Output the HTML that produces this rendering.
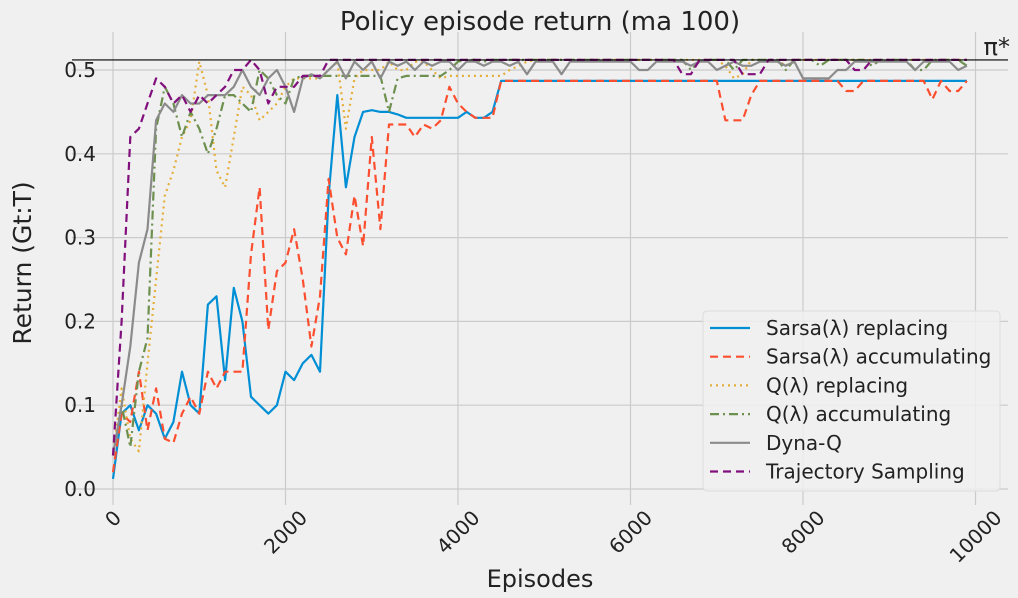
<!DOCTYPE html>
<html><head><meta charset="utf-8"><style>
body{margin:0;background:#f0f0f0;}
svg{display:block;font-family:"DejaVu Sans","Liberation Sans",sans-serif;}
</style></head><body>
<svg id="chart" width="1018" height="598" viewBox="0 0 1018 598">
<rect x="0" y="0" width="1018" height="598" fill="#f0f0f0"/>
<g id="grid"></g>
<g id="series"></g>
<g id="axes"></g>
<text x="540" y="30" font-size="26" text-anchor="middle" fill="#222">Policy episode return (ma 100)</text>
<text x="540" y="587" font-size="24" text-anchor="middle" fill="#222">Episodes</text>
<text transform="translate(31,263) rotate(-90)" font-size="25" text-anchor="middle" fill="#222">Return (Gt:T)</text>
<g id="legend"></g>
</svg>
<script>
const episodes=[];for(let i=0;i<100;i++)episodes.push(i*100);
const xTicks=[0,2000,4000,6000,8000,10000];
const yTicks=[0.0,0.1,0.2,0.3,0.4,0.5];
const yTickLabels=["0.0","0.1","0.2","0.3","0.4","0.5"];
const optimalValue=0.512;
const seriesNames=["Sarsa(λ) replacing","Sarsa(λ) accumulating","Q(λ) replacing","Q(λ) accumulating","Dyna-Q","Trajectory Sampling"];
const sarsaReplacing=[.012,.09,.10,.07,.10,.09,.06,.08,.14,.10,
.09,.22,.23,.13,.24,.20,.11,.10,.09,.10,
.14,.13,.15,.16,.14,.35,.47,.36,.42,.45,
.452,.45,.45,.447,.443,.443,.443,.443,.443,.443,
.443,.45,.443,.443,.45,.487,.487,.487,.487,.487,
.487,.487,.487,.487,.487,.487,.487,.487,.487,.487,
.487,.487,.487,.487,.487,.487,.487,.487,.487,.487,
.487,.487,.487,.487,.487,.487,.487,.487,.487,.487,
.487,.487,.487,.487,.487,.487,.487,.487,.487,.487,
.487,.487,.487,.487,.487,.487,.487,.487,.487,.487];
const sarsaAccumulating=[.02,.09,.08,.14,.07,.12,.06,.055,.09,.11,
.09,.14,.12,.14,.14,.14,.28,.36,.19,.26,
.27,.31,.25,.17,.23,.37,.30,.28,.35,.29,
.42,.31,.435,.435,.435,.42,.435,.43,.44,.48,
.46,.45,.443,.443,.443,.487,.487,.487,.487,.487,
.487,.487,.487,.487,.487,.487,.487,.487,.487,.487,
.487,.487,.487,.487,.487,.487,.487,.487,.487,.487,
.487,.44,.44,.44,.47,.487,.487,.487,.487,.487,
.487,.487,.487,.487,.487,.475,.475,.487,.487,.487,
.487,.487,.487,.487,.487,.465,.487,.475,.475,.487];
const qReplacing=[.04,.12,.06,.045,.15,.25,.35,.38,.42,.44,
.51,.47,.38,.36,.42,.48,.47,.44,.45,.46,
.48,.49,.49,.49,.49,.50,.51,.43,.49,.50,
.50,.50,.51,.50,.50,.51,.51,.50,.49,.493,
.493,.493,.493,.493,.493,.493,.50,.505,.51,.512,
.512,.512,.512,.512,.512,.512,.512,.512,.512,.512,
.512,.512,.512,.512,.512,.512,.512,.512,.512,.512,
.512,.505,.49,.495,.512,.512,.512,.512,.505,.512,
.512,.512,.512,.512,.512,.512,.512,.512,.512,.512,
.512,.512,.512,.512,.512,.512,.512,.512,.512,.512];
const qAccumulating=[.04,.10,.05,.14,.18,.43,.48,.46,.42,.45,
.43,.40,.43,.47,.47,.46,.45,.50,.49,.47,
.46,.49,.493,.493,.493,.493,.493,.493,.493,.493,
.493,.493,.45,.49,.493,.493,.493,.493,.493,.50,
.51,.512,.512,.51,.512,.512,.512,.512,.512,.512,
.512,.512,.512,.512,.512,.512,.512,.512,.512,.512,
.512,.512,.512,.512,.512,.512,.512,.50,.51,.512,
.512,.512,.50,.512,.512,.512,.512,.512,.50,.512,
.512,.512,.505,.512,.512,.512,.512,.512,.505,.512,
.512,.512,.512,.50,.50,.512,.512,.512,.512,.505];
const dynaQ=[.04,.10,.17,.27,.31,.44,.46,.45,.47,.46,
.46,.47,.47,.47,.48,.50,.48,.47,.49,.50,
.48,.45,.49,.495,.49,.50,.51,.49,.51,.50,
.51,.49,.51,.505,.51,.50,.51,.505,.51,.51,
.50,.51,.51,.505,.51,.51,.505,.51,.495,.51,
.51,.51,.495,.51,.51,.51,.51,.51,.51,.51,
.51,.50,.50,.51,.51,.51,.51,.505,.51,.51,
.50,.505,.51,.505,.505,.51,.51,.51,.505,.51,
.49,.49,.49,.49,.50,.50,.51,.51,.51,.51,
.51,.51,.51,.50,.51,.51,.51,.51,.50,.505];
const trajectorySampling=[.04,.20,.42,.43,.46,.49,.48,.46,.47,.45,
.47,.46,.47,.48,.50,.50,.512,.50,.46,.48,
.48,.48,.493,.493,.493,.512,.512,.512,.512,.512,
.512,.512,.512,.512,.512,.512,.512,.512,.512,.512,
.512,.512,.512,.512,.512,.512,.512,.512,.512,.512,
.512,.512,.512,.512,.512,.512,.512,.512,.512,.512,
.512,.512,.512,.512,.512,.512,.495,.495,.512,.512,
.512,.512,.512,.495,.495,.495,.512,.512,.512,.512,
.512,.512,.512,.512,.512,.512,.50,.50,.512,.512,
.512,.512,.512,.512,.512,.512,.512,.512,.512,.512];
const allSeries=[sarsaReplacing,sarsaAccumulating,qReplacing,qAccumulating,dynaQ,trajectorySampling];
const colors=["#008fd5","#fc4f30","#e5ae38","#6d904f","#8b8b8b","#810f7c"];
const dashes=["","8,5","2,4","9,4,2,4","","8,5"];
const slugs=["sarsa-replacing","sarsa-accumulating","q-replacing","q-accumulating","dyna-q","trajectory-sampling"];
const NS="http://www.w3.org/2000/svg";
const X0=72,X1=1008,Y0=32,Y1=505;
function xs(e){return 113+e*0.08625;}
function ys(v){return 489-v*838;}
function mk(tag,attrs,parent){const el=document.createElementNS(NS,tag);for(const k in attrs)el.setAttribute(k,attrs[k]);parent.appendChild(el);return el;}
const grid=document.getElementById('grid');
xTicks.forEach(t=>{const l=mk('line',{x1:xs(t),x2:xs(t),y1:Y0,y2:Y1,stroke:'#cbcbcb','stroke-width':1.2},grid);

});
yTicks.forEach(t=>{const l=mk('line',{x1:X0,x2:X1,y1:ys(t),y2:ys(t),stroke:'#cbcbcb','stroke-width':1.2},grid);

});
const axes=document.getElementById('axes');
yTicks.forEach((t,i)=>{const tx=mk('text',{x:96,y:ys(t)+7,'font-size':20,'text-anchor':'end',fill:'#222'},axes);tx.textContent=yTickLabels[i];

});
xTicks.forEach(t=>{const s=String(t);const w=s.length*12.7;const cy=507+(w+20)*0.707/2;
const tx=mk('text',{x:0,y:7,'font-size':20,'text-anchor':'middle',fill:'#222',transform:`translate(${xs(t)},${cy}) rotate(-45)`},axes);tx.textContent=s;

});
const ser=document.getElementById('series');
allSeries.forEach((arr,i)=>{const pts=arr.map((v,j)=>xs(episodes[j]).toFixed(1)+','+ys(v).toFixed(1)).join(' ');
const p=mk('polyline',{points:pts,fill:'none',stroke:colors[i],'stroke-width':2.2,'stroke-linejoin':'round'},ser);
if(dashes[i])p.setAttribute('stroke-dasharray',dashes[i]);

});
const opt=mk('line',{x1:X0,x2:X1,y1:ys(optimalValue),y2:ys(optimalValue),stroke:'#000','stroke-width':1.2},axes);


const pl=mk('text',{x:1010,y:ys(optimalValue)-5,'font-size':24,'text-anchor':'end',fill:'#222'},axes);pl.textContent='π*';


const lg=document.getElementById('legend');
const box=mk('rect',{x:703,y:311,width:297,height:180,rx:4,fill:'#f0f0f0','fill-opacity':0.85,stroke:'#dcdcdc'},lg);


seriesNames.forEach((n,i)=>{const cy=328+i*28.7;
const l=mk('line',{x1:710,x2:750,y1:cy,y2:cy,stroke:colors[i],'stroke-width':2.2},lg);
if(dashes[i])l.setAttribute('stroke-dasharray',dashes[i]);


const t=mk('text',{x:766,y:cy+7,'font-size':20,fill:'#222'},lg);t.textContent=n;

});
</script>
</body></html>
